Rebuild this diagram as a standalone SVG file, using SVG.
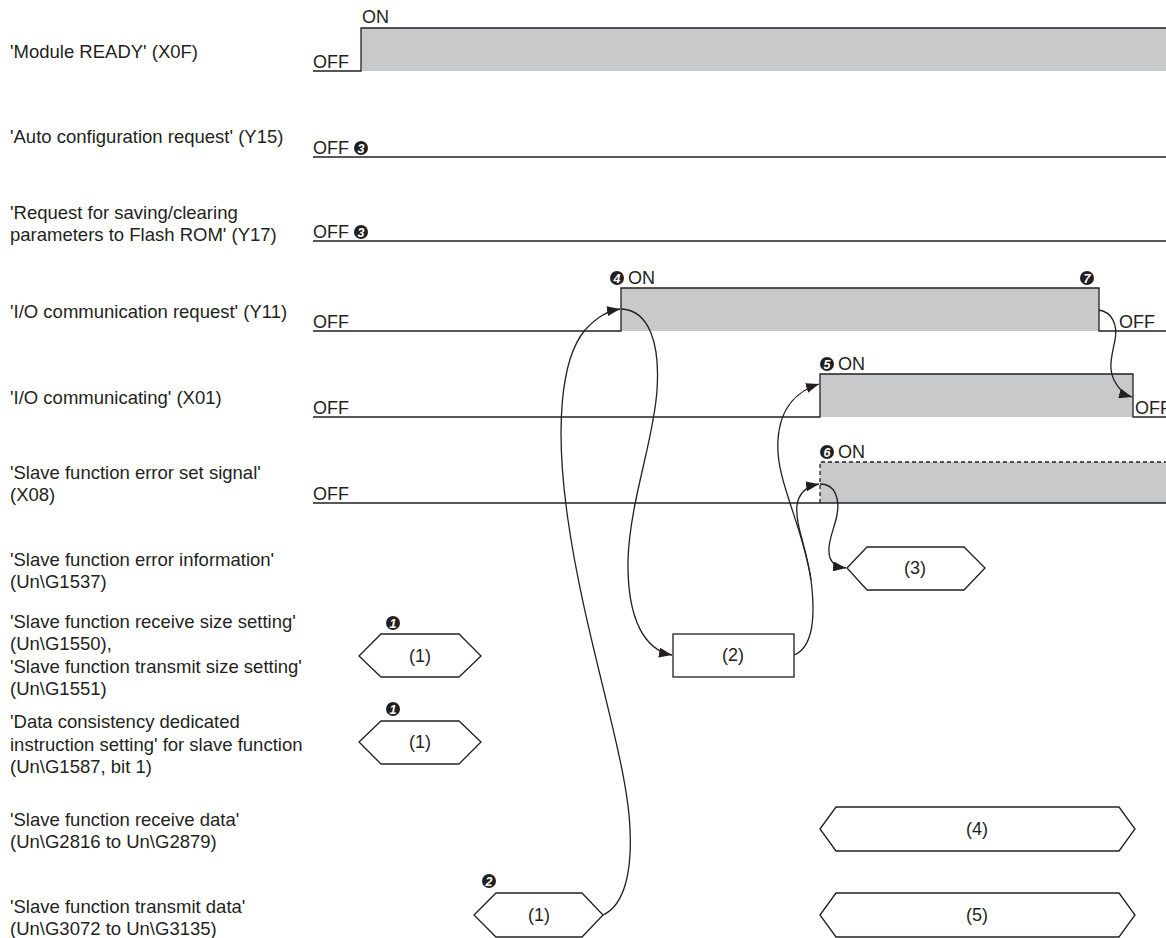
<svg xmlns="http://www.w3.org/2000/svg" width="1166" height="938" viewBox="0 0 1166 938">
<style>
.lbl{font-family:"Liberation Sans",Arial,sans-serif;font-size:18.5px;fill:#231f20}
.st{font-family:"Liberation Sans",Arial,sans-serif;font-size:18px;fill:#231f20}
.ln{fill:none;stroke:#231f20;stroke-width:1.3}
.on{fill:#c8c9cb;stroke:none}
.dash{fill:none;stroke:#231f20;stroke-width:1.3;stroke-dasharray:4,3}
.shape{fill:#fff;stroke:#231f20;stroke-width:1.3}
.bd{fill:#231f20}
.num{font-family:"Liberation Sans",Arial,sans-serif;font-size:12.5px;font-weight:bold;font-style:italic;fill:#fff;text-anchor:middle}
.cv{fill:none;stroke:#231f20;stroke-width:1.3;marker-end:url(#ah)}
.cv0{fill:none;stroke:#231f20;stroke-width:1.3}
.mid{text-anchor:middle}
</style>
<defs>
<marker id="ah" markerUnits="userSpaceOnUse" markerWidth="14" markerHeight="10" refX="13" refY="5" orient="auto">
<path d="M0,0 L13,5 L0,10 z" fill="#231f20"/>
</marker>
</defs>
<rect width="1166" height="938" fill="#fff"/>

<g id="row-x0f">
<text class="lbl" x="10" y="58">'Module READY' (X0F)</text>
<rect class="on" x="361" y="28" width="805" height="43"/>
<path class="ln" d="M313,71 H361 V28 H1166"/>
<text class="st" x="313" y="68">OFF</text>
<text class="st" x="362" y="23">ON</text>
</g>

<g id="row-y15">
<text class="lbl" x="10" y="143">'Auto configuration request' (Y15)</text>
<path class="ln" d="M313,157 H1166"/>
<text class="st" x="313" y="154">OFF</text>
<circle class="bd" cx="361" cy="148" r="7"/><text class="num" x="361" y="152.5">3</text>
</g>

<g id="row-y17">
<text class="lbl" x="10" y="219">'Request for saving/clearing</text>
<text class="lbl" x="10" y="241">parameters to Flash ROM' (Y17)</text>
<path class="ln" d="M313,241 H1166"/>
<text class="st" x="313" y="238">OFF</text>
<circle class="bd" cx="361" cy="232" r="7"/><text class="num" x="361" y="236.5">3</text>
</g>

<g id="row-y11">
<text class="lbl" x="10" y="318">'I/O communication request' (Y11)</text>
<rect class="on" x="621" y="288" width="478" height="43"/>
<path class="ln" d="M313,331 H621 V288 H1099 V331 H1166"/>
<text class="st" x="313" y="328">OFF</text>
<circle class="bd" cx="617" cy="278" r="7"/><text class="num" x="617" y="282.5">4</text>
<text class="st" x="628" y="284">ON</text>
<circle class="bd" cx="1087" cy="278" r="7"/><text class="num" x="1087" y="282.5">7</text>
<text class="st" x="1119" y="328">OFF</text>
</g>

<g id="row-x01">
<text class="lbl" x="10" y="404">'I/O communicating' (X01)</text>
<rect class="on" x="820" y="374" width="313" height="43"/>
<path class="ln" d="M313,417 H820 V374 H1133 V417 H1166"/>
<text class="st" x="313" y="414">OFF</text>
<circle class="bd" cx="827" cy="364" r="7"/><text class="num" x="827" y="368.5">5</text>
<text class="st" x="838" y="370">ON</text>
<text class="st" x="1135" y="414">OFF</text>
</g>

<g id="row-x08">
<text class="lbl" x="10" y="479">'Slave function error set signal'</text>
<text class="lbl" x="10" y="501">(X08)</text>
<rect class="on" x="820" y="462" width="346" height="41"/>
<path class="ln" d="M313,503 H1166"/>
<path class="dash" d="M820,503 V462 H1166"/>
<text class="st" x="313" y="500">OFF</text>
<circle class="bd" cx="827" cy="452" r="7"/><text class="num" x="827" y="456.5">6</text>
<text class="st" x="838" y="458">ON</text>
</g>

<g id="row-g1537">
<text class="lbl" x="10" y="566">'Slave function error information'</text>
<text class="lbl" x="10" y="588">(Un\G1537)</text>
</g>
<g id="row-g1550">
<text class="lbl" x="10" y="628">'Slave function receive size setting'</text>
<text class="lbl" x="10" y="650">(Un\G1550),</text>
<text class="lbl" x="10" y="673">'Slave function transmit size setting'</text>
<text class="lbl" x="10" y="695">(Un\G1551)</text>
</g>
<g id="row-g1587">
<text class="lbl" x="10" y="728">'Data consistency dedicated</text>
<text class="lbl" x="10" y="751">instruction setting' for slave function</text>
<text class="lbl" x="10" y="773">(Un\G1587, bit 1)</text>
</g>
<g id="row-g2816">
<text class="lbl" x="10" y="826">'Slave function receive data'</text>
<text class="lbl" x="10" y="848">(Un\G2816 to Un\G2879)</text>
</g>
<g id="row-g3072">
<text class="lbl" x="10" y="913">'Slave function transmit data'</text>
<text class="lbl" x="10" y="935">(Un\G3072 to Un\G3135)</text>
</g>

<g id="hex-size">
<polygon class="shape" points="359,656 381,634 459,634 481,656 459,677 381,677"/>
<text class="st mid" x="420" y="662">(1)</text>
<circle class="bd" cx="393" cy="623" r="7"/><text class="num" x="393" y="627.5">1</text>
</g>
<g id="hex-consistency">
<polygon class="shape" points="359,742 381,721 459,721 481,742 459,764 381,764"/>
<text class="st mid" x="420" y="748">(1)</text>
<circle class="bd" cx="393" cy="709" r="7"/><text class="num" x="393" y="713.5">1</text>
</g>
<g id="hex-transmit">
<polygon class="shape" points="474,915 496,893 582,893 603,915 582,937 496,937"/>
<text class="st mid" x="539" y="921">(1)</text>
<circle class="bd" cx="489" cy="881" r="7"/><text class="num" x="489" y="885.5">2</text>
</g>
<g id="box-2">
<rect class="shape" x="673" y="634" width="121" height="43"/>
<text class="st mid" x="733" y="661">(2)</text>
</g>
<g id="hex-3">
<polygon class="shape" points="847,568 867,547 964,547 985,568 964,590 867,590"/>
<text class="st mid" x="915" y="574">(3)</text>
</g>
<g id="hex-4">
<polygon class="shape" points="820,829 836,807 1119,807 1135,829 1119,851 836,851"/>
<text class="st mid" x="977" y="835">(4)</text>
</g>
<g id="hex-5">
<polygon class="shape" points="820,915 836,893 1119,893 1135,915 1119,937 836,937"/>
<text class="st mid" x="977" y="921">(5)</text>
</g>

<g id="connectors">
<path class="cv" d="M603,915 C 625,905 632,870 630,830 C 628,760 585,640 568,520 C 555,430 560,360 585,330 C 598,316 608,311 620,309"/>
<path class="cv" d="M621,309 C 650,310 660,345 657,390 C 654,440 630,500 628,560 C 627,620 645,650 672,655"/>
<path class="cv0" d="M794,655 C 812,648 816,620 811,580"/>
<path class="cv" d="M811,580 C 803,525 775,480 778,440 C 780,405 800,390 819,384"/>
<path class="cv" d="M811,580 C 806,545 795,525 797,505 C 799,492 808,486 819,484"/>
<path class="cv" d="M820,484 C 835,484 840,498 837,515 C 834,530 826,545 830,558 C 833,565 838,567 846,568"/>
<path class="cv" d="M1099,310 C 1112,312 1118,325 1115,340 C 1112,355 1108,368 1114,380 C 1119,390 1125,395 1132,397"/>
</g>
</svg>
